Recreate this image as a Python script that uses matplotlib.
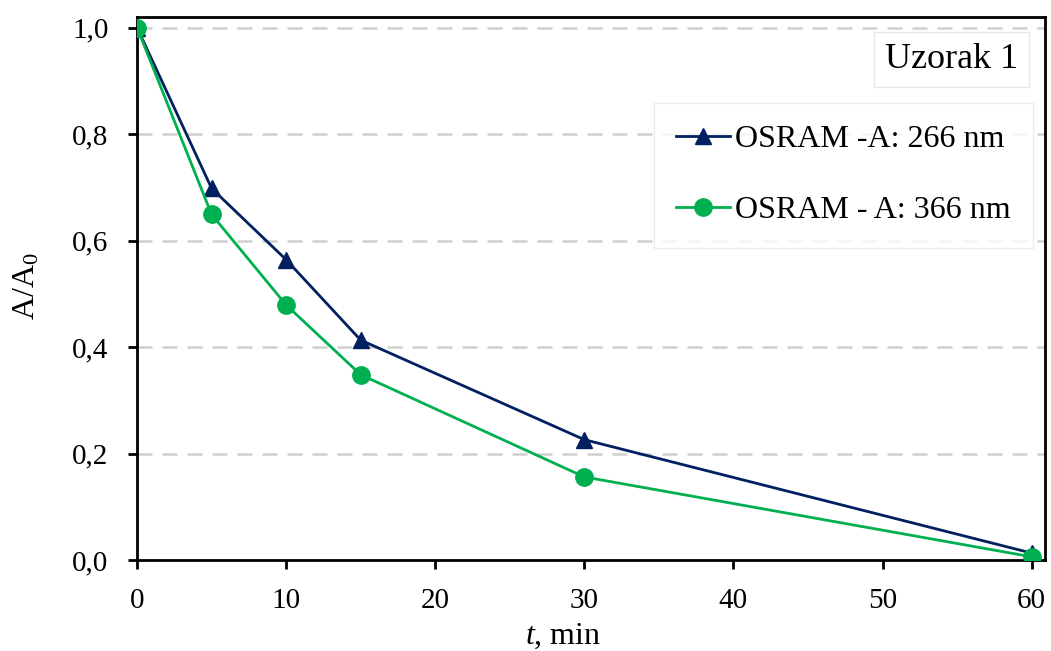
import numpy as np
import matplotlib.pyplot as plt
from matplotlib.ticker import FuncFormatter

plt.rcParams['font.family'] = ['Liberation Serif', 'DejaVu Serif']
plt.rcParams['mathtext.fontset'] = 'custom'
plt.rcParams['mathtext.rm'] = 'Liberation Serif'
plt.rcParams['mathtext.it'] = 'Liberation Serif:italic'

# data
t_min = [0, 5, 10, 15, 30, 60]
a_266 = [1.0, 0.698, 0.564, 0.413, 0.226, 0.013]
a_366 = [1.0, 0.649, 0.479, 0.348, 0.156, 0.006]
label_266 = "OSRAM -A: 266 nm"
label_366 = "OSRAM - A: 366 nm"
x_ticks = [0, 10, 20, 30, 40, 50, 60]
y_ticks = [0.0, 0.2, 0.4, 0.6, 0.8, 1.0]

NAVY = '#002060'
GREEN = '#00B050'

fig = plt.figure(figsize=(10.51, 6.51), dpi=100)
ax = fig.add_axes([0.1304, 0.1398, 0.8639, 0.8342])

ax.plot(t_min, a_266, color=NAVY, lw=2, marker='^', ms=12, label=label_266, zorder=3)
ax.plot(t_min, a_366, color=GREEN, lw=2, marker='o', ms=12.5, label=label_366, zorder=4)

ax.set_xlim(0, 60.9)
ax.set_ylim(0, 1.02)
ax.set_xticks(x_ticks)
ax.set_yticks(y_ticks)
ax.yaxis.set_major_formatter(FuncFormatter(lambda v, p: f"{v:.1f}".replace('.', ',')))
ax.tick_params(direction='out', length=6.5, width=2, labelsize=21)
ax.tick_params(axis='x', pad=13.5)
ax.tick_params(axis='y', pad=14)

for y in y_ticks[1:]:
    ax.axhline(y, color='#d0d0d0', lw=1.8, ls=(0, (6, 4)), zorder=1)

for s in ax.spines.values():
    s.set_linewidth(2)

# reference has this label touching the bottom edge; kept just inside
ax.set_xlabel(r"$\it{t}$, min", fontsize=23)
ax.set_ylabel(r"A/A$_0$", fontsize=23)
ax.xaxis.set_label_coords(0.469, -0.113)
ax.yaxis.set_label_coords(-0.105, 0.505)

leg = ax.legend(loc='upper right', bbox_to_anchor=(0.987, 0.842), fontsize=23,
                frameon=True, fancybox=False, handlelength=1.7, handletextpad=0.15,
                labelspacing=1.3, borderpad=0.7, borderaxespad=0)
leg.get_frame().set_edgecolor('#e6e6e6')
leg.get_frame().set_linewidth(1)

ax.text(0.970, 0.921, "Uzorak 1", transform=ax.transAxes, fontsize=26,
        ha='right', va='center',
        bbox=dict(boxstyle='square,pad=0.3', fc='white', ec='#e6e6e6', lw=1))

fig.savefig('out.png', dpi=100)
